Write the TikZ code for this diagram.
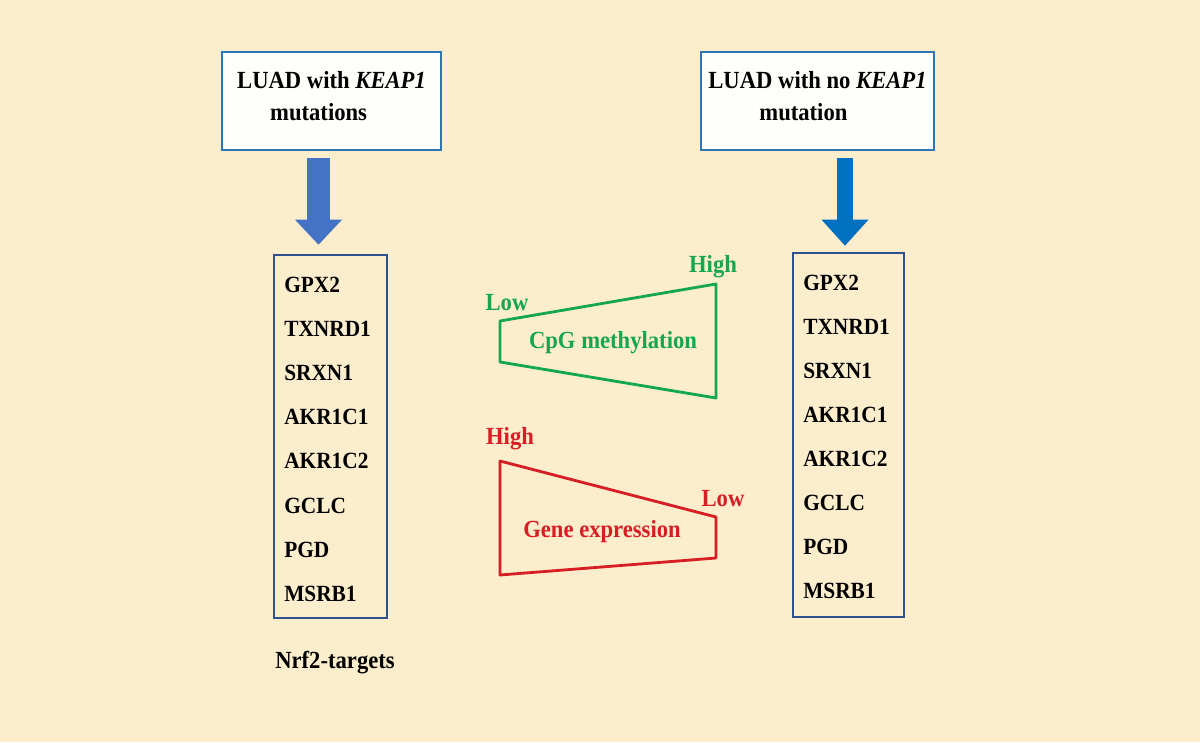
\documentclass[tikz,border=0pt]{standalone}
\usepackage{fontspec}
\setmainfont{Liberation Serif}[FakeStretch=0.92]
\usetikzlibrary{arrows.meta}
\definecolor{paper}{RGB}{252,237,205}
\definecolor{boxfill}{RGB}{254,254,250}
\definecolor{boxblue}{RGB}{46,117,182}
\definecolor{listblue}{RGB}{47,82,143}
\definecolor{arrowL}{RGB}{68,114,196}
\definecolor{arrowR}{RGB}{0,112,192}
\definecolor{methgreen}{RGB}{20,166,80}
\definecolor{exprred}{RGB}{214,30,36}

\begin{document}
\begin{tikzpicture}[x=0.025cm,y=-0.025cm,
    every node/.style={font=\fontsize{17.5}{22.5}\selectfont\bfseries},
    mutbox/.style={draw=boxblue,line width=2pt,fill=boxfill,minimum height=2.45cm,align=left,text depth=0.25cm},
    genebox/.style={draw=listblue,line width=1.8pt},
    gene/.style={anchor=west,inner sep=0pt,font=\fontsize{16.5}{20}\selectfont\bfseries},
    trap/.style={line width=2pt,line join=round}]
    \fill[paper] (0,0) rectangle (1200,742);
    \node[mutbox,minimum width=5.475cm] (kmut) at (331.5,101) {LUAD with \textit{KEAP1}\\\hspace*{0.825cm}mutations};
    \node[mutbox,minimum width=5.825cm] (nomut) at (817.5,101) {LUAD with no \textit{KEAP1}\\\hspace*{1.275cm}mutation};
    \node[genebox,minimum width=2.825cm,minimum height=9.075cm] (listL) at (330.5,436.5) {};
    \node[genebox,minimum width=2.775cm,minimum height=9.1cm] (listR) at (848.5,435) {};
    \coordinate (aL) at (318.5,150);
    \coordinate (aR) at (845,150);
    \draw[arrowL,line width=0.575cm,shorten <=0.2cm,shorten >=0.225cm,
      -{Triangle[width=1.175cm,length=0.625cm,line width=0pt]}] (aL) to (aL |- listL.north);
    \draw[arrowR,line width=0.4cm,shorten <=0.2cm,shorten >=0.15cm,
      -{Triangle[width=1.175cm,length=0.65cm,line width=0pt]}] (aR) to (aR |- listR.north);
    \foreach \g [count=\i] in {GPX2,TXNRD1,SRXN1,AKR1C1,AKR1C2,GCLC,PGD,MSRB1} {
      \node[gene] (gl\i) at (284,{285+44.1*(\i-1)}) {\g};
      \node[gene] (gr\i) at (803,{283+44*(\i-1)}) {\g};
    }
    \node (nrf) at (335,663) {Nrf2-targets};
    \draw[methgreen,trap] (500,321) to (716,284) to (716,398) to (500,362) -- cycle;
    \node[text=methgreen] (mlow) at (507,303) {Low};
    \node[text=methgreen] (mhigh) at (713,267) {High};
    \node[text=methgreen] (meth) at (613,343) {CpG methylation};
    \draw[exprred,trap] (500,461) to (716,517) to (716,558) to (500,575) -- cycle;
    \node[text=exprred] (ehigh) at (510,439) {High};
    \node[text=exprred] (elow) at (723,499) {Low};
    \node[text=exprred] (expr) at (602,532) {Gene expression};
  \end{tikzpicture}
\end{document}
